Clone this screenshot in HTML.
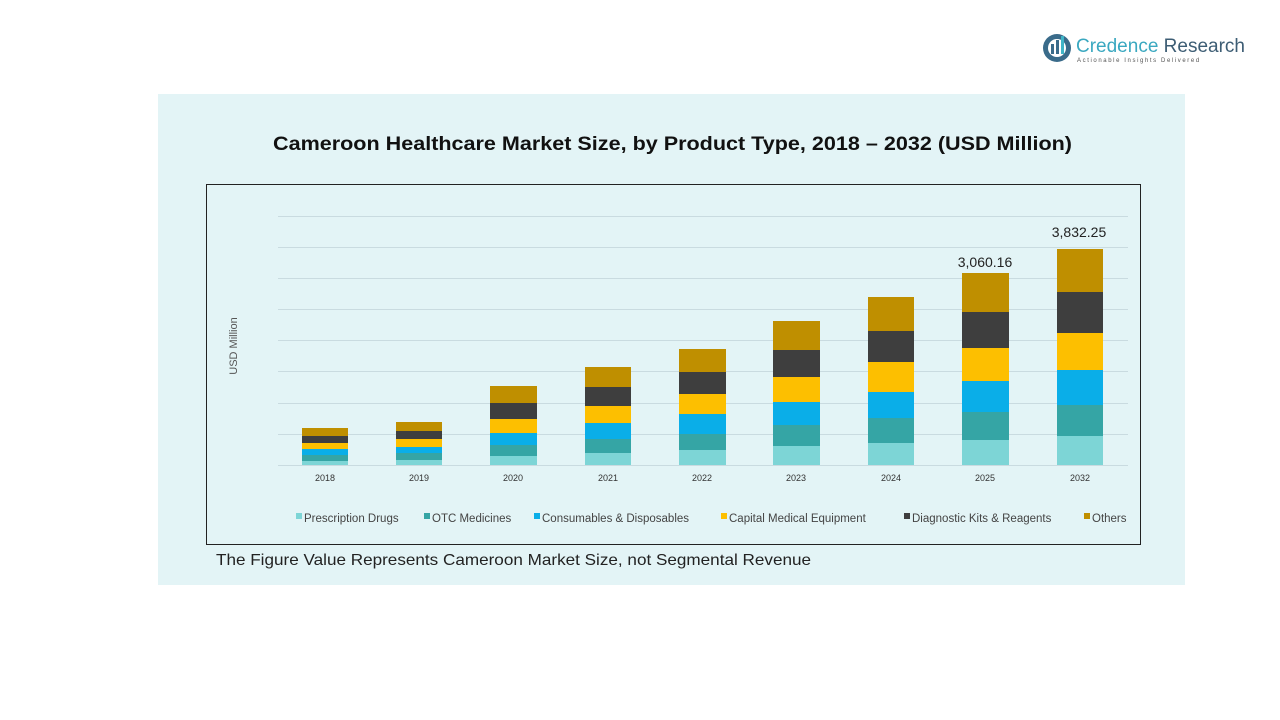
<!DOCTYPE html>
<html><head><meta charset="utf-8"><style>
html,body{margin:0;padding:0;background:#fff;}
svg{display:block;font-family:"Liberation Sans",sans-serif;}
</style></head><body>
<svg width="1280" height="720" viewBox="0 0 1280 720" xmlns="http://www.w3.org/2000/svg">
<rect width="1280" height="720" fill="#fff"/>
<circle cx="1057" cy="48" r="14" fill="#3a6b8a"/>
<circle cx="1057" cy="48" r="9" fill="#fff"/>
<rect x="1051" y="44" width="3" height="10" fill="#3a6b8a"/><rect x="1056" y="40" width="3" height="14" fill="#3a6b8a"/><rect x="1061" y="36" width="3" height="18" fill="#3fb5c8"/>
<text x="1076" y="52" font-size="19" fill="#3aa8c0">Credence <tspan fill="#3d5d74">Research</tspan></text>
<text x="1077" y="62" font-size="6" fill="#555" letter-spacing="1.6">Actionable Insights Delivered</text>
<rect x="158" y="94" width="1027" height="491" fill="#e3f4f6"/>
<text x="273" y="150" font-size="19" font-weight="bold" fill="#111" textLength="799" lengthAdjust="spacingAndGlyphs">Cameroon Healthcare Market Size, by Product Type, 2018 – 2032 (USD Million)</text>
<rect x="206.5" y="184.5" width="934" height="360" fill="none" stroke="#222" stroke-width="1"/>
<g stroke="#c9dbe0" stroke-width="1">
<line x1="278" x2="1128" y1="216.5" y2="216.5"/><line x1="278" x2="1128" y1="247.5" y2="247.5"/>
<line x1="278" x2="1128" y1="278.5" y2="278.5"/><line x1="278" x2="1128" y1="309.5" y2="309.5"/>
<line x1="278" x2="1128" y1="340.5" y2="340.5"/><line x1="278" x2="1128" y1="371.5" y2="371.5"/>
<line x1="278" x2="1128" y1="403.5" y2="403.5"/><line x1="278" x2="1128" y1="434.5" y2="434.5"/>
<line x1="278" x2="1128" y1="465.5" y2="465.5"/>
</g>
<text transform="translate(237,346) rotate(-90)" font-size="11" fill="#555" text-anchor="middle">USD Million</text>
<g>
<rect x="302" y="461" width="46" height="4" fill="#7dd5d6"/><rect x="302" y="455" width="46" height="6" fill="#35a5a5"/><rect x="302" y="449" width="46" height="6" fill="#0aaee8"/><rect x="302" y="443" width="46" height="6" fill="#fdbf00"/><rect x="302" y="436" width="46" height="7" fill="#3e3e3e"/><rect x="302" y="428" width="46" height="8" fill="#bf8f00"/>
<rect x="396" y="460" width="46" height="5" fill="#7dd5d6"/><rect x="396" y="453" width="46" height="7" fill="#35a5a5"/><rect x="396" y="447" width="46" height="6" fill="#0aaee8"/><rect x="396" y="439" width="46" height="8" fill="#fdbf00"/><rect x="396" y="431" width="46" height="8" fill="#3e3e3e"/><rect x="396" y="422" width="46" height="9" fill="#bf8f00"/>
<rect x="490" y="456" width="47" height="9" fill="#7dd5d6"/><rect x="490" y="445" width="47" height="11" fill="#35a5a5"/><rect x="490" y="433" width="47" height="12" fill="#0aaee8"/><rect x="490" y="419" width="47" height="14" fill="#fdbf00"/><rect x="490" y="403" width="47" height="16" fill="#3e3e3e"/><rect x="490" y="386" width="47" height="17" fill="#bf8f00"/>
<rect x="585" y="453" width="46" height="12" fill="#7dd5d6"/><rect x="585" y="439" width="46" height="14" fill="#35a5a5"/><rect x="585" y="423" width="46" height="16" fill="#0aaee8"/><rect x="585" y="406" width="46" height="17" fill="#fdbf00"/><rect x="585" y="387" width="46" height="19" fill="#3e3e3e"/><rect x="585" y="367" width="46" height="20" fill="#bf8f00"/>
<rect x="679" y="450" width="47" height="15" fill="#7dd5d6"/><rect x="679" y="434" width="47" height="16" fill="#35a5a5"/><rect x="679" y="414" width="47" height="20" fill="#0aaee8"/><rect x="679" y="394" width="47" height="20" fill="#fdbf00"/><rect x="679" y="372" width="47" height="22" fill="#3e3e3e"/><rect x="679" y="349" width="47" height="23" fill="#bf8f00"/>
<rect x="773" y="446" width="47" height="19" fill="#7dd5d6"/><rect x="773" y="425" width="47" height="21" fill="#35a5a5"/><rect x="773" y="402" width="47" height="23" fill="#0aaee8"/><rect x="773" y="377" width="47" height="25" fill="#fdbf00"/><rect x="773" y="350" width="47" height="27" fill="#3e3e3e"/><rect x="773" y="321" width="47" height="29" fill="#bf8f00"/>
<rect x="868" y="443" width="46" height="22" fill="#7dd5d6"/><rect x="868" y="418" width="46" height="25" fill="#35a5a5"/><rect x="868" y="392" width="46" height="26" fill="#0aaee8"/><rect x="868" y="362" width="46" height="30" fill="#fdbf00"/><rect x="868" y="331" width="46" height="31" fill="#3e3e3e"/><rect x="868" y="297" width="46" height="34" fill="#bf8f00"/>
<rect x="962" y="440" width="47" height="25" fill="#7dd5d6"/><rect x="962" y="412" width="47" height="28" fill="#35a5a5"/><rect x="962" y="381" width="47" height="31" fill="#0aaee8"/><rect x="962" y="348" width="47" height="33" fill="#fdbf00"/><rect x="962" y="312" width="47" height="36" fill="#3e3e3e"/><rect x="962" y="273" width="47" height="39" fill="#bf8f00"/>
<rect x="1057" y="436" width="46" height="29" fill="#7dd5d6"/><rect x="1057" y="405" width="46" height="31" fill="#35a5a5"/><rect x="1057" y="370" width="46" height="35" fill="#0aaee8"/><rect x="1057" y="333" width="46" height="37" fill="#fdbf00"/><rect x="1057" y="292" width="46" height="41" fill="#3e3e3e"/><rect x="1057" y="249" width="46" height="43" fill="#bf8f00"/>
</g>
<text x="985" y="267" font-size="14" text-anchor="middle" fill="#222">3,060.16</text>
<text x="1079" y="237" font-size="14" text-anchor="middle" fill="#222">3,832.25</text>
<g font-size="9" fill="#333" text-anchor="middle">
<text x="325" y="481">2018</text><text x="419" y="481">2019</text><text x="513" y="481">2020</text><text x="608" y="481">2021</text><text x="702" y="481">2022</text><text x="796" y="481">2023</text><text x="891" y="481">2024</text><text x="985" y="481">2025</text><text x="1080" y="481">2032</text>
</g>
<g font-size="11.5" fill="#444">
<rect x="296" y="513" width="6" height="6" fill="#7dd5d6"/><text x="304" y="522">Prescription Drugs</text>
<rect x="424" y="513" width="6" height="6" fill="#35a5a5"/><text x="432" y="522">OTC Medicines</text>
<rect x="534" y="513" width="6" height="6" fill="#0aaee8"/><text x="542" y="522">Consumables &amp; Disposables</text>
<rect x="721" y="513" width="6" height="6" fill="#fdbf00"/><text x="729" y="522">Capital Medical Equipment</text>
<rect x="904" y="513" width="6" height="6" fill="#3e3e3e"/><text x="912" y="522">Diagnostic Kits &amp; Reagents</text>
<rect x="1084" y="513" width="6" height="6" fill="#bf8f00"/><text x="1092" y="522">Others</text>
</g>
<text x="216" y="565" font-size="16" fill="#222" textLength="595" lengthAdjust="spacingAndGlyphs">The Figure Value Represents Cameroon Market Size, not Segmental Revenue</text>
</svg>
</body></html>
